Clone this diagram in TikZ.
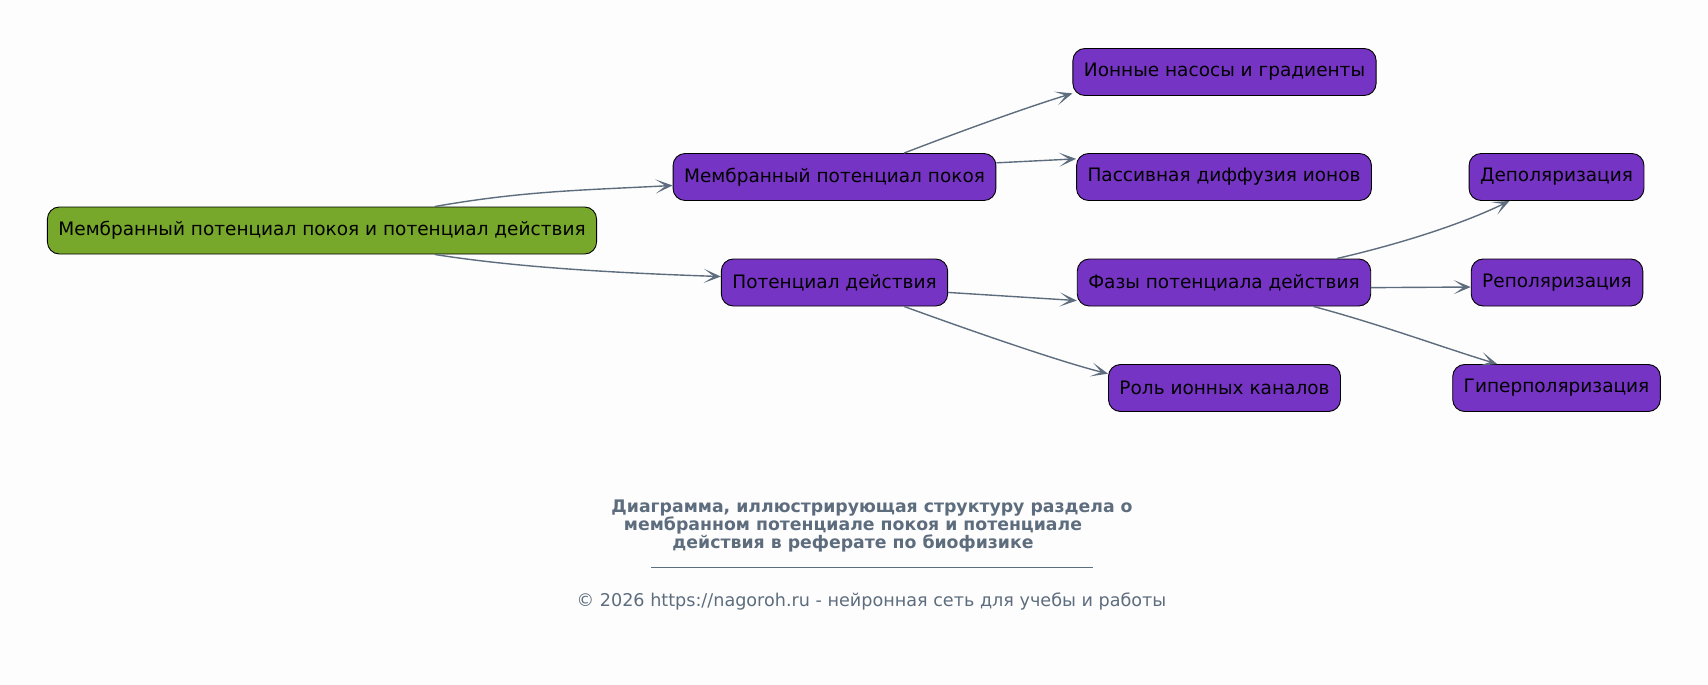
\documentclass[tikz,border=0pt]{standalone}
\usepackage{fontspec}
\setmainfont{DejaVu Sans}
\usetikzlibrary{arrows.meta}
\definecolor{rootgreen}{HTML}{77A82B}
\definecolor{topicpurple}{HTML}{7634C4}
\definecolor{edgegray}{HTML}{5D6D7E}
\definecolor{bgwhite}{HTML}{FDFDFD}
\begin{document}
\begin{tikzpicture}[x=1pt,y=1pt,
  box/.style={draw=black, line width=0.9pt, rounded corners=12pt, minimum height=47pt,
    inner xsep=11pt, text=black, font=\fontsize{18.5}{20}\selectfont},
  rootbox/.style={box, fill=rootgreen},
  topic/.style={box, fill=topicpurple},
  link/.style={draw=edgegray, line width=1.4pt, -{Stealth[length=17pt,width=14pt,inset=10pt]}},
  captext/.style={text=edgegray, align=center}]
% Background
\fill[bgwhite] (0,0) rectangle (1708,-685);
\useasboundingbox (0,0) rectangle (1708,-685);

% Nodes
\node[rootbox] (root) at (322,-230.5) {Мембранный потенциал покоя и потенциал действия};
\node[topic] (rest) at (834.5,-177) {Мембранный потенциал покоя};
\node[topic] (act) at (834.5,-282.5) {Потенциал действия};
\node[topic] (pumps) at (1224.5,-72) {Ионные насосы и градиенты};
\node[topic] (diff) at (1224,-177) {Пассивная диффузия ионов};
\node[topic] (phases) at (1224,-282.5) {Фазы потенциала действия};
\node[topic] (chan) at (1224.5,-388) {Роль ионных каналов};
\node[topic] (depol) at (1556.5,-177) {Деполяризация};
\node[topic] (repol) at (1557,-282.5) {Реполяризация};
\node[topic] (hyper) at (1556.5,-388) {Гиперполяризация};

% Connectors
\draw[link] (root.12) .. controls +(10:90) and +(183:90) .. (rest.183);
\draw[link] (root.-12) .. controls +(-9:90) and +(178:90) .. (act.177);
\draw[link] (rest.19) .. controls +(21:60) and +(197:50) .. (pumps.188);
\draw[link] (rest.5) -- (diff.173);
\draw[link] (act.-5) -- (phases.187);
\draw[link] (act.-19) .. controls +(-20:70) and +(166:50) .. (chan.173);
\draw[link] (phases.12) .. controls +(13:70) and +(206:50) .. (depol.207);
\draw[link] (phases.-2) -- (repol.183);
\draw[link] (phases.-15) .. controls +(-15:70) and +(163:60) .. (hyper.158);

% Caption
\node[captext, font=\bfseries\fontsize{17.3}{17.6}\selectfont] (title) at (872,-526)
  {Диаграмма, иллюстрирующая структуру раздела о\\
   мембранном потенциале покоя и потенциале\rule{38pt}{0pt}\\
   действия в реферате по биофизике\rule{38pt}{0pt}};
\node[captext] (rule) at (872,-567.5) {\color{edgegray}\rule{442pt}{0.9pt}};
\node[captext, font=\fontsize{17.6}{19}\selectfont] (copy) at (871.5,-601)
  {© 2026 https://nagoroh.ru - нейронная сеть для учебы и работы};
\end{tikzpicture}
\end{document}
